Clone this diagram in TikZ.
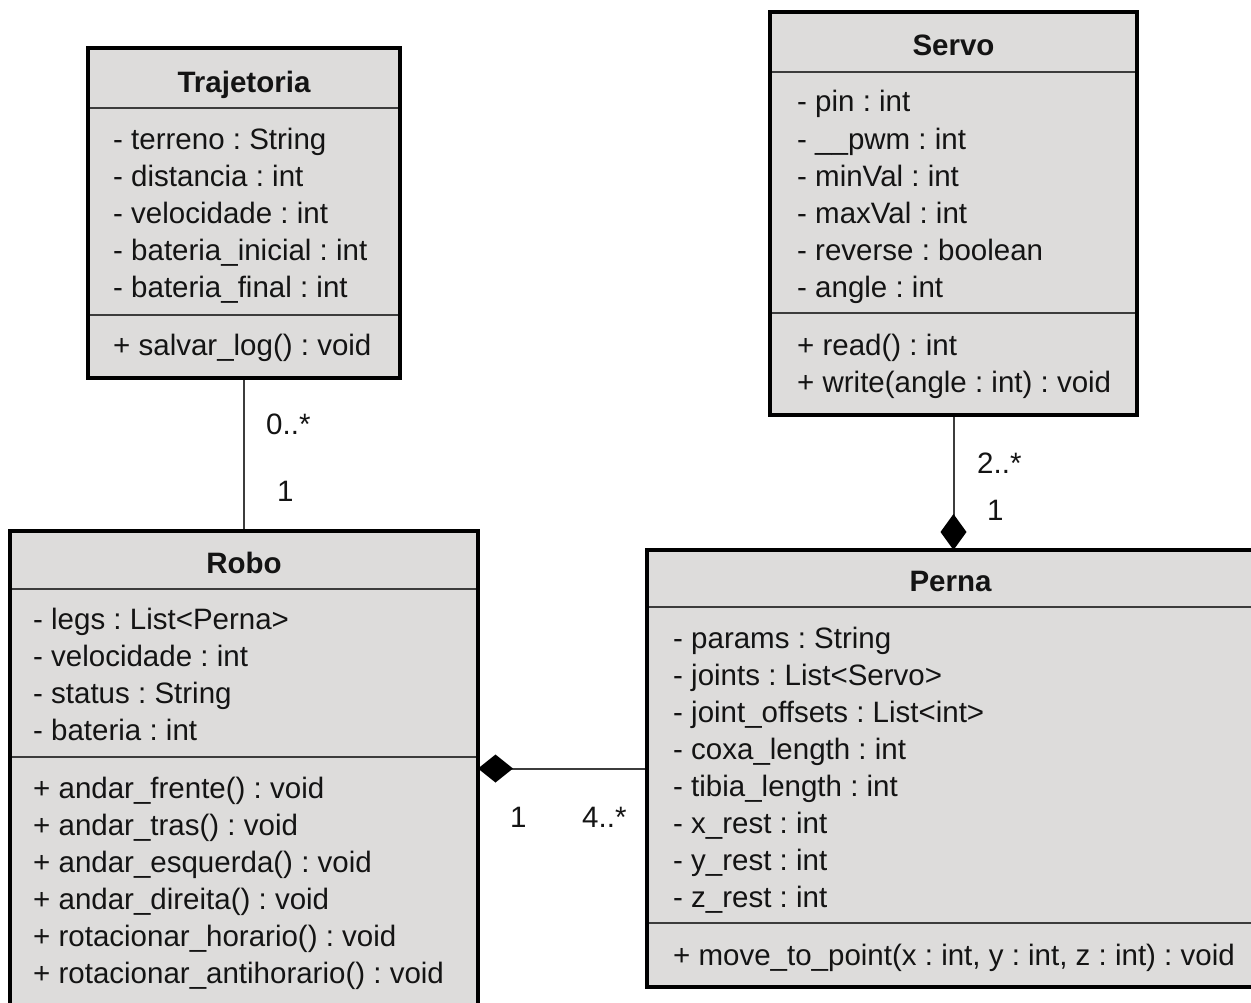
\documentclass[tikz,border=0pt]{standalone}
\usepackage{fontspec}
\setmainfont{Liberation Sans}
\usetikzlibrary{arrows.meta}
\definecolor{boxfill}{RGB}{221,220,219}
\definecolor{rulegray}{RGB}{60,60,60}
\definecolor{ink}{RGB}{20,20,20}
\frenchspacing

\begin{document}
\begin{tikzpicture}[x=1pt,y=-1pt,
  classbox/.style={rectangle, fill=boxfill, draw=none, inner sep=0pt, outer sep=0pt},
  frame/.style={draw=black, line width=4.5pt},
  divider/.style={draw=rulegray, line width=2.5pt},
  title/.style={anchor=base, inner sep=0pt, text=ink, font=\fontsize{29.5}{35}\selectfont\bfseries},
  member/.style={anchor=base west, inner sep=0pt, text=ink, font=\fontsize{29.5}{35}\selectfont},
  mult/.style={anchor=base west, inner sep=0pt, text=ink, font=\fontsize{29.5}{35}\selectfont},
  assoc/.style={draw=rulegray, line width=2pt}
]
\useasboundingbox (0,0) rectangle (1251,1003);
\fill[white] (0,0) rectangle (1251,1003);
\clip (0,0) rectangle (1251,1003);

% class bodies
\node[classbox, minimum width=312, minimum height=330] (traj) at (244,213) {};
\node[classbox, minimum width=367, minimum height=403] (servo) at (953.5,213.5) {};
\node[classbox, minimum width=468, minimum height=479] (robo) at (244,770.5) {};
\node[classbox, minimum width=607, minimum height=437] (perna) at (950.5,768.5) {};

% associations
\draw[assoc] (traj.south) -- (robo.north);
\draw[assoc, -{Turned Square[length=36pt, width=26pt, color=black]}] (servo.south) -- (servo.south |- perna.north);
\draw[assoc, {Turned Square[length=35pt, width=28pt, color=black]}-] (robo.east |- perna.west) -- (perna.west);

% compartment separators
\draw[divider] ([yshift=-60pt]traj.north west) -- ([yshift=-60pt]traj.north east);
\draw[divider] ([yshift=-267pt]traj.north west) -- ([yshift=-267pt]traj.north east);
\draw[divider] ([yshift=-60pt]servo.north west) -- ([yshift=-60pt]servo.north east);
\draw[divider] ([yshift=-301pt]servo.north west) -- ([yshift=-301pt]servo.north east);
\draw[divider] ([yshift=-58pt]robo.north west) -- ([yshift=-58pt]robo.north east);
\draw[divider] ([yshift=-226pt]robo.north west) -- ([yshift=-226pt]robo.north east);
\draw[divider] ([yshift=-57pt]perna.north west) -- ([yshift=-57pt]perna.north east);
\draw[divider] ([yshift=-373pt]perna.north west) -- ([yshift=-373pt]perna.north east);

% outlines
\draw[frame] (traj.north west) rectangle (traj.south east);
\draw[frame] (servo.north west) rectangle (servo.south east);
\draw[frame] (robo.north west) rectangle (robo.south east);
\draw[frame] (perna.north west) rectangle (perna.south east);

% Trajetoria
\node[title] (traj-t) at (244,93) {Trajetoria};
\foreach \t [count=\i] in {- terreno : String, - distancia : int, - velocidade : int,
    - bateria\_inicial : int, - bateria\_final : int}
  \node[member] (traj-a\i) at (113,{150+37*(\i-1)}) {\t};
\node[member] (traj-m1) at (113,355) {+ salvar\_log() : void};

% Servo
\node[title] (servo-t) at (953.5,56) {Servo};
\foreach \t [count=\i] in {- pin : int, - \_\_pwm : int, - minVal : int,
    - maxVal : int, - reverse : boolean, - angle : int}
  \node[member] (servo-a\i) at (797,{112+37.2*(\i-1)}) {\t};
\node[member] (servo-m1) at (797,355) {+ read() : int};
\node[member] (servo-m2) at (797,392) {+ write(angle : int) : void};

% Robo
\node[title] (robo-t) at (244,573) {Robo};
\foreach \t [count=\i] in {- legs : List<Perna>, - velocidade : int, - status : String,
    - bateria : int}
  \node[member] (robo-a\i) at (33,{629+37*(\i-1)}) {\t};
\foreach \t [count=\i] in {+ andar\_frente() : void, + andar\_tras() : void,
    + andar\_esquerda() : void, + andar\_direita() : void,
    + rotacionar\_horario() : void, + rotacionar\_antihorario() : void}
  \node[member] (robo-m\i) at (33,{798+37*(\i-1)}) {\t};

% Perna
\node[title] (perna-t) at (950.5,591) {Perna};
\foreach \t [count=\i] in {- params : String, - joints : List<Servo>,
    - joint\_offsets : List<int>, - coxa\_length : int, - tibia\_length : int,
    - x\_rest : int, - y\_rest : int, - z\_rest : int}
  \node[member] (perna-a\i) at (673,{648+37.1*(\i-1)}) {\t};
\node[member] (perna-m1) at (673,965) {+ move\_to\_point(x : int, y : int, z : int) : void};

% multiplicities
\node[mult] (m-traj) at (266,434) {0..*};
\node[mult] (m-robo1) at (277,501) {1};
\node[mult] (m-servo) at (977,473) {2..*};
\node[mult] (m-perna1) at (987,520) {1};
\node[mult] (m-robo2) at (510,827) {1};
\node[mult] (m-perna2) at (582,827) {4..*};
\end{tikzpicture}
\end{document}
